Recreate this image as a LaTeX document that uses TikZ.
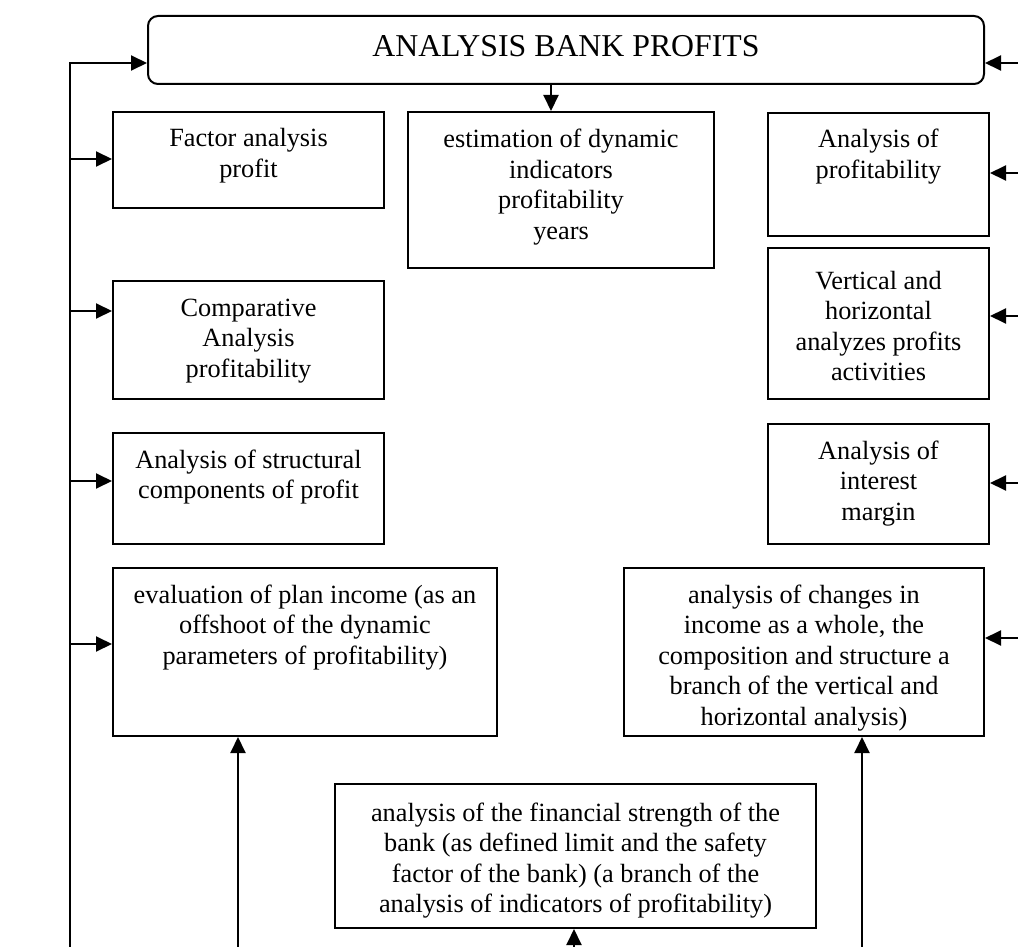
\documentclass[tikz,border=0pt]{standalone}
\usepackage{fontspec}
\setmainfont{Liberation Serif}
\usetikzlibrary{arrows.meta}

% box text: width, height (pt), first line dropped by the optional depth
\newcommand{\boxtxt}[4][35pt]{\parbox[c][#3pt][t]{#2pt}{\centering\rule{0pt}{#1}#4}}

\begin{document}
\begin{tikzpicture}[
  x=1pt, y=-1pt,
  font=\fontsize{26.3}{30.5}\selectfont, >={Triangle[length=16pt, width=15pt]},
  blk/.style={draw, line width=2pt, inner sep=0pt, anchor=north west},
  hdr/.style={draw, line width=2pt, rounded corners=10pt, anchor=north west,
    minimum width=836pt, minimum height=68pt, inner sep=0pt, text depth=9pt,
    font=\fontsize{31.8}{36}\selectfont},
  arr/.style={->, line width=2pt}
]
\useasboundingbox (0,0) rectangle (1018,947);
% ---------------- title
\node[hdr] (ttl) at (147,15) {ANALYSIS BANK PROFITS};
% ---------------- left column
\node[blk] (fac) at (112,111) {\boxtxt{271}{96}{Factor analysis\\profit}};
\node[blk] (cmp) at (112,280) {\boxtxt{271}{118}{Comparative\\Analysis\\profitability}};
\node[blk] (str) at (112,432) {\boxtxt{271}{111}{Analysis of structural\\components of profit}};
\node[blk] (evl) at (112,567) {\boxtxt{384}{168}{evaluation of plan income (as an\\offshoot of the dynamic\\parameters of profitability)}};
% ---------------- middle
\node[blk] (est) at (407,111) {\boxtxt[36pt]{306}{156}{estimation of dynamic\\indicators\\profitability\\years}};
\node[blk] (fin) at (334,783) {\boxtxt[37pt]{481}{144}{analysis of the financial strength of the\\bank (as defined limit and the safety\\factor of the bank) (a branch of the\\analysis of indicators of profitability)}};
% ---------------- right column
\node[blk] (prf) at (767,112) {\boxtxt{221}{123}{Analysis of\\profitability}};
\node[blk] (vrt) at (767,247) {\boxtxt[41pt]{221}{151}{Vertical and\\horizontal\\analyzes profits\\activities}};
\node[blk] (int) at (767,423) {\boxtxt{221}{120}{Analysis of\\interest\\margin}};
\node[blk] (chg) at (623,567) {\boxtxt{360}{168}{analysis of changes in\\income as a whole, the\\composition and structure a\\branch of the vertical and\\horizontal analysis)}};
% ---------------- free ends
\coordinate (lb) at (70,947);
\coordinate (lt) at (70,63);
\coordinate (l1) at (70,159);
\coordinate (l2) at (70,311);
\coordinate (l3) at (70,481);
\coordinate (l4) at (70,644);
\coordinate (rt) at (1018,63);
\coordinate (r1) at (1018,173);
\coordinate (r2) at (1018,316);
\coordinate (r3) at (1018,483);
\coordinate (r4) at (1018,638);
\coordinate (b1) at (238,947);
\coordinate (b2) at (574,947);
\coordinate (b3) at (862,947);
\coordinate (dn) at (551,0);
% ---------------- edges
\draw[arr] (lb) -- (lt) -- (lt -| ttl.west);
\draw[arr] (l1) -- (l1 -| fac.west);
\draw[arr] (l2) -- (l2 -| cmp.west);
\draw[arr] (l3) -- (l3 -| str.west);
\draw[arr] (l4) -- (l4 -| evl.west);
\draw[arr] (rt) -- (rt -| ttl.east);
\draw[arr] (r1) -- (r1 -| prf.east);
\draw[arr] (r2) -- (r2 -| vrt.east);
\draw[arr] (r3) -- (r3 -| int.east);
\draw[arr] (r4) -- (r4 -| chg.east);
\draw[arr] (dn |- ttl.south) -- (dn |- est.north);
\draw[arr] (b1) -- (b1 |- evl.south);
\draw[arr] (b2) -- (b2 |- fin.south);
\draw[arr] (b3) -- (b3 |- chg.south);
\end{tikzpicture}
\end{document}
